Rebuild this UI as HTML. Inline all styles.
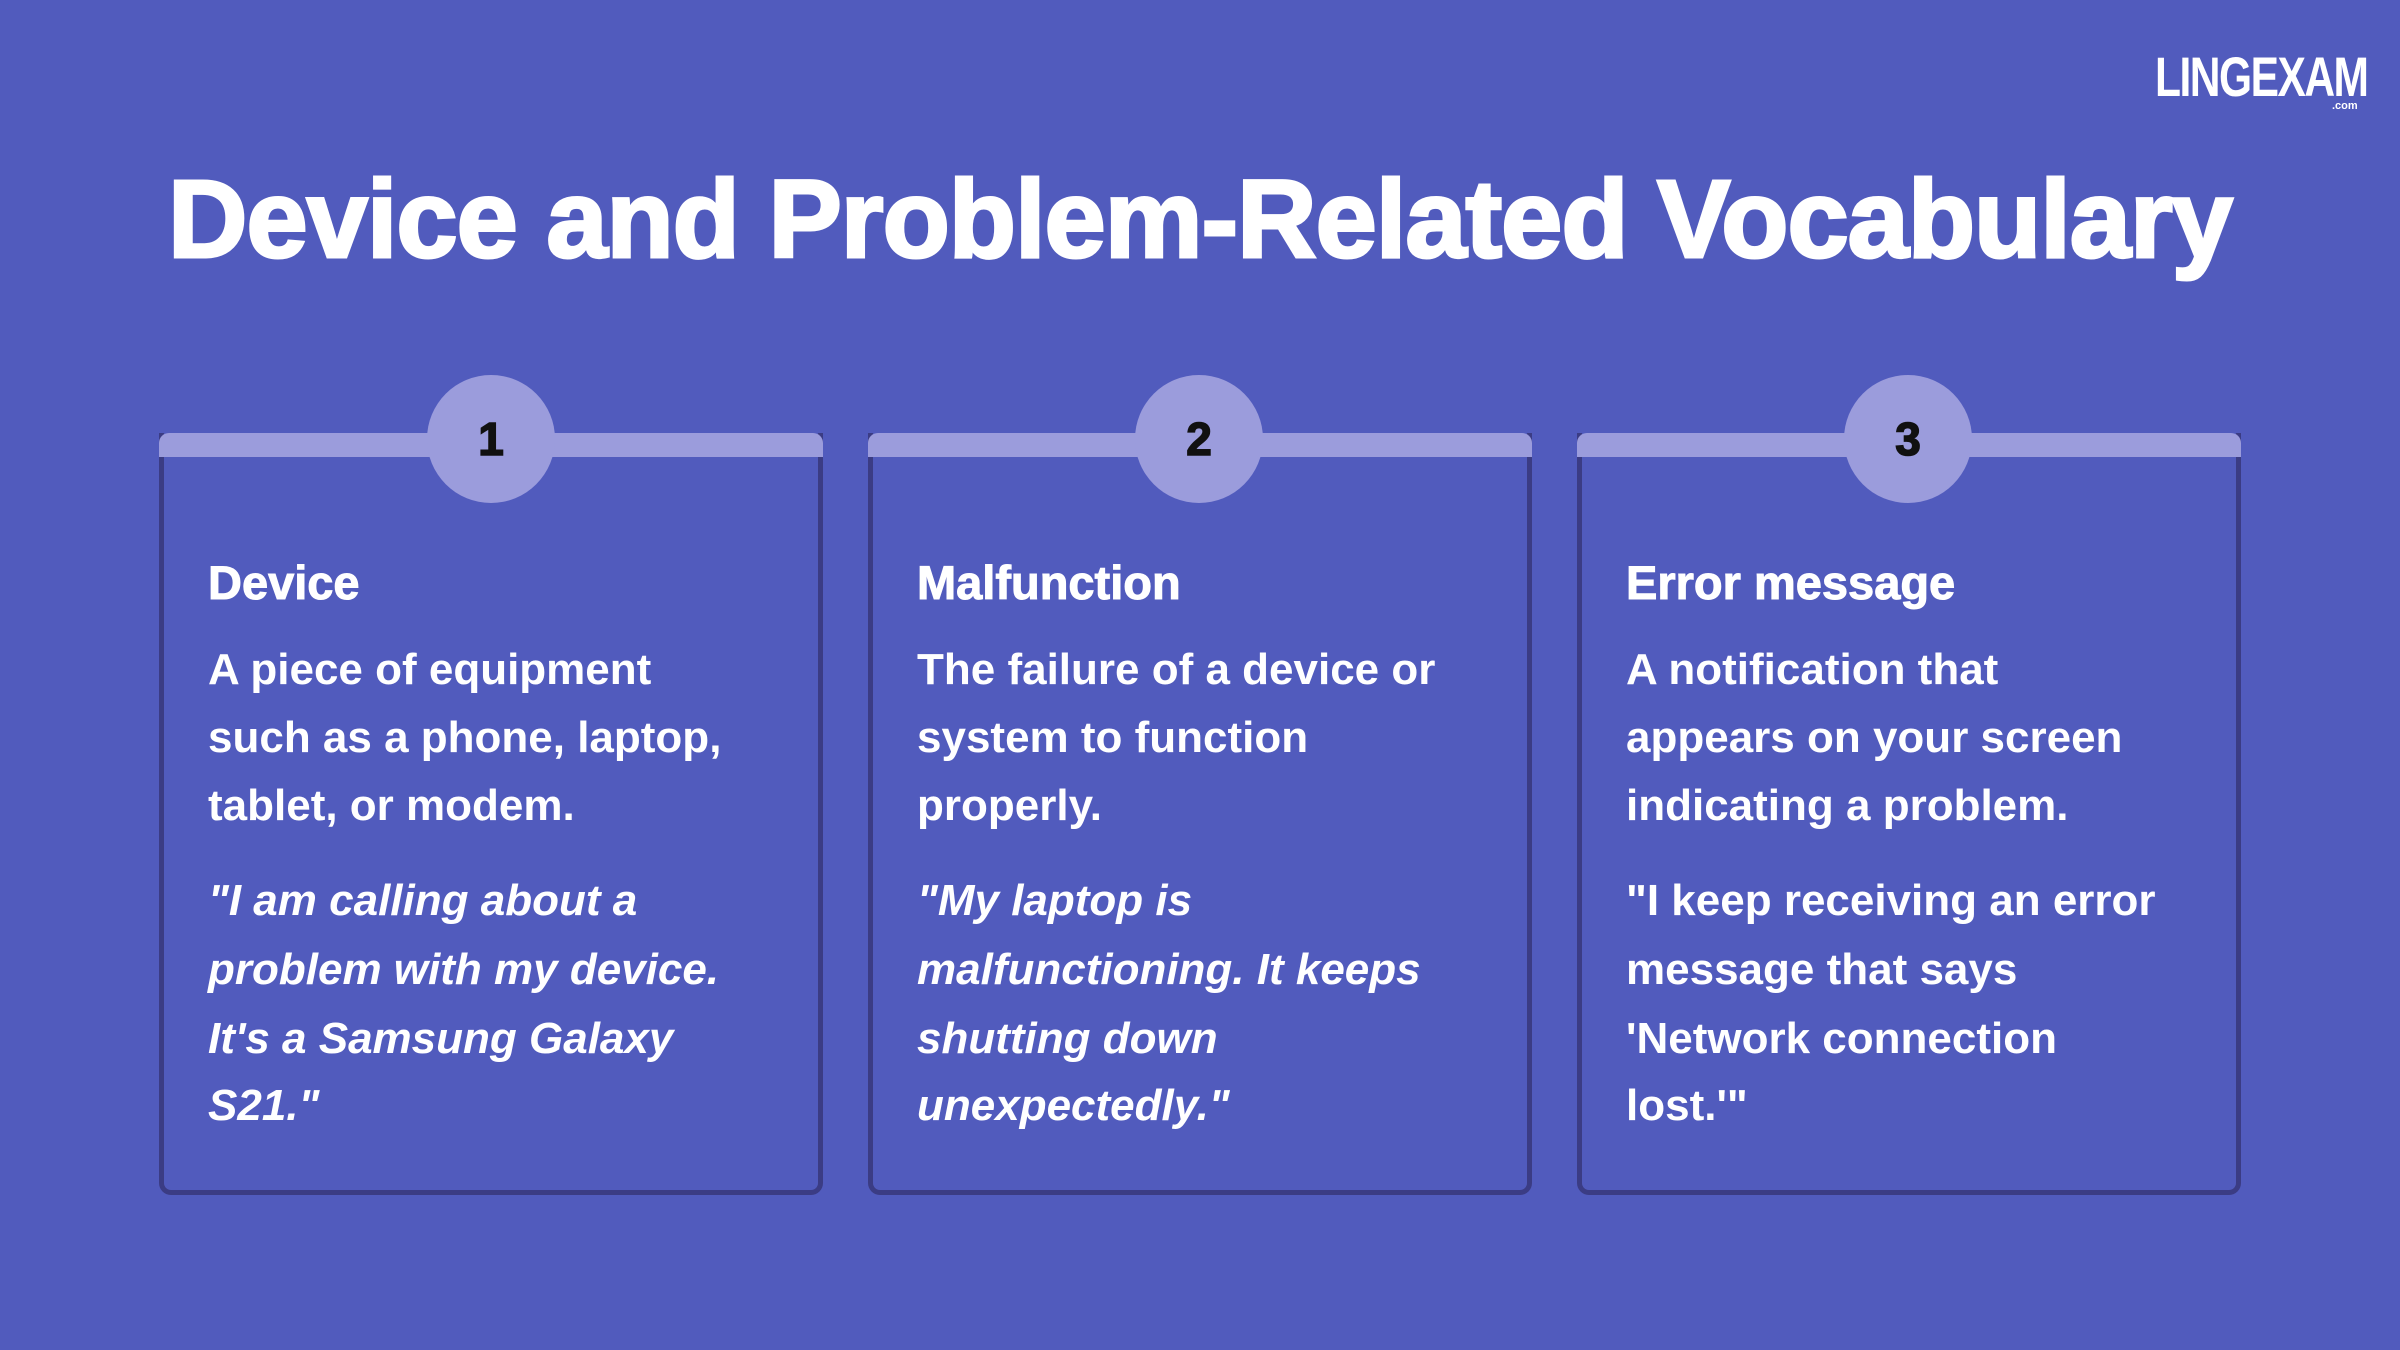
<!DOCTYPE html>
<html><head><meta charset="utf-8"><style>
*{margin:0;padding:0;box-sizing:border-box}
body{width:2400px;height:1350px;background:#515bbd;position:relative;overflow:hidden;font-family:"Liberation Sans",sans-serif;color:#fff}
.title{position:absolute;left:100px;top:156px;width:2200px;text-align:center;font-weight:900;font-size:110px;letter-spacing:-1px;white-space:nowrap;-webkit-text-stroke:3px #fff}
.card{position:absolute;top:433px;width:664px;height:762px;border:5px solid #3b3c84;border-top:none;border-radius:0 0 12px 12px}
.band{position:absolute;top:433px;width:664px;height:24px;background:#9b9cdc;border-radius:10px 10px 0 0}
.circ{position:absolute;top:375px;width:128px;height:128px;border-radius:50%;background:#9b9cdc;color:#111;font-weight:900;font-size:46px;text-align:center;line-height:128px;-webkit-text-stroke:1.5px #111}
.t{position:absolute;white-space:nowrap}
.h{font-weight:900;font-size:47px;-webkit-text-stroke:1px #fff}
.b{font-size:44px;font-weight:bold}
.i{font-size:44px;font-weight:bold;font-style:italic}
.logo{position:absolute;left:2155px;top:44px;font-weight:900;font-size:56px;letter-spacing:-2px;transform:scaleX(.76);transform-origin:left}
</style></head><body>
<div class="logo">LINGEXAM</div>
<div class="t" style="left:2332px;top:100px;font-size:11px;font-weight:bold">.com</div>
<div class="title">Device and Problem-Related Vocabulary</div>

<div class="card" style="left:159px"></div><div class="band" style="left:159px"></div><div class="circ" style="left:427px">1</div>
<div class="card" style="left:868px"></div><div class="band" style="left:868px"></div><div class="circ" style="left:1135px">2</div>
<div class="card" style="left:1577px"></div><div class="band" style="left:1577px"></div><div class="circ" style="left:1844px">3</div>

<div class="t h" style="left:208px;top:555px">Device</div>
<div class="t b" style="left:208px;top:645px">A piece of equipment</div>
<div class="t b" style="left:208px;top:713px">such as a phone, laptop,</div>
<div class="t b" style="left:208px;top:781px">tablet, or modem.</div>
<div class="t i" style="left:208px;top:876px">"I am calling about a</div>
<div class="t i" style="left:208px;top:945px">problem with my device.</div>
<div class="t i" style="left:208px;top:1014px">It's a Samsung Galaxy</div>
<div class="t i" style="left:208px;top:1081px">S21."</div>

<div class="t h" style="left:917px;top:555px">Malfunction</div>
<div class="t b" style="left:917px;top:645px">The failure of a device or</div>
<div class="t b" style="left:917px;top:713px">system to function</div>
<div class="t b" style="left:917px;top:781px">properly.</div>
<div class="t i" style="left:917px;top:876px">"My laptop is</div>
<div class="t i" style="left:917px;top:945px">malfunctioning. It keeps</div>
<div class="t i" style="left:917px;top:1014px">shutting down</div>
<div class="t i" style="left:917px;top:1081px">unexpectedly."</div>

<div class="t h" style="left:1626px;top:555px">Error message</div>
<div class="t b" style="left:1626px;top:645px">A notification that</div>
<div class="t b" style="left:1626px;top:713px">appears on your screen</div>
<div class="t b" style="left:1626px;top:781px">indicating a problem.</div>
<div class="t b" style="left:1626px;top:876px">"I keep receiving an error</div>
<div class="t b" style="left:1626px;top:945px">message that says</div>
<div class="t b" style="left:1626px;top:1014px">'Network connection</div>
<div class="t b" style="left:1626px;top:1081px">lost.'"</div>
</body></html>
